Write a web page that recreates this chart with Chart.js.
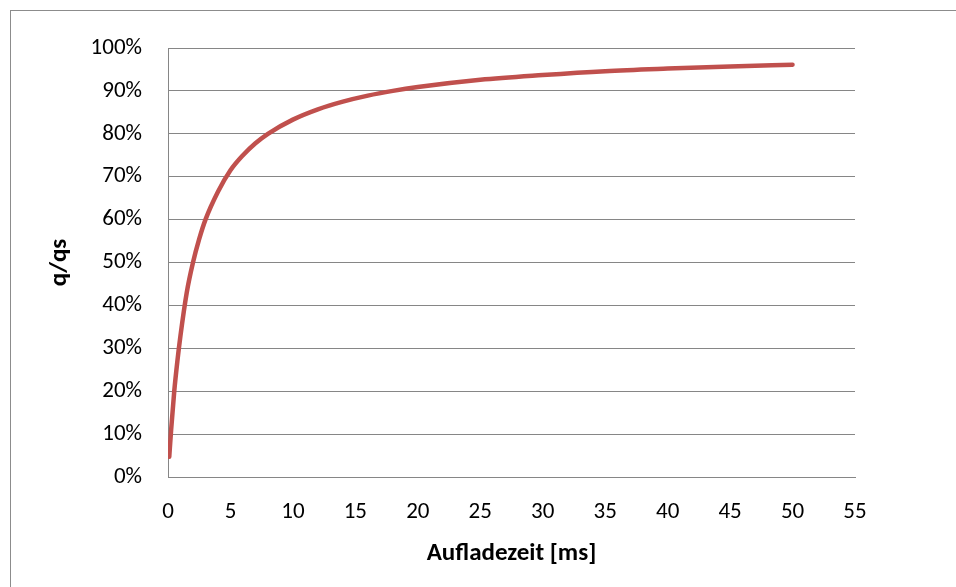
<!DOCTYPE html>
<html>
<head>
<meta charset="utf-8">
<script src="https://cdn.jsdelivr.net/npm/chart.js@4/dist/chart.umd.min.js"></script>
<style>
    html, body { margin: 0; padding: 0; background: #fff; overflow: hidden; }
    #wrap { position: relative; width: 956px; height: 587px; }
    #frame { position: absolute; left: 10px; top: 10px; width: 960px; height: 600px; border: 1px solid #8c8c8c; pointer-events: none; }
</style>
</head>
<body>
<div id="wrap">
    <canvas id="chart" width="956" height="587"></canvas>
    <div id="frame"></div>
</div>
<script>
// values: charging time [ms] and q/qs [%]
const chargeTime = [0.1, 0.25, 0.5, 0.75, 1, 1.5, 2, 2.5, 3, 4, 5, 6, 7, 8, 10, 12, 14, 16, 18, 20, 25, 30, 35, 40, 45, 50];
const chargeRatio = [4.7, 11, 20, 27, 33, 43, 50, 55.5, 60, 66.5, 71.5, 75, 77.8, 80, 83.3, 85.7, 87.5, 88.9, 90, 90.9, 92.6, 93.7, 94.6, 95.2, 95.7, 96.1];

const xTicks = [0, 5, 10, 15, 20, 25, 30, 35, 40, 45, 50, 55];
const yTicks = [0, 10, 20, 30, 40, 50, 60, 70, 80, 90, 100];

const fontFamily = 'Carlito, Calibri, Lato, "Open Sans", sans-serif';
const gridColor = '#868686';

document.addEventListener('DOMContentLoaded', () => {
    const points = chargeTime.map((t, i) => ({ x: t, y: chargeRatio[i] }));

    new Chart(document.getElementById('chart'), {
        type: 'scatter',
        data: {
            datasets: [{
                label: 'q/qs',
                data: points,
                showLine: true,
                borderColor: '#C0504D',
                borderWidth: 4.5,
                borderCapStyle: 'round',
                cubicInterpolationMode: 'monotone',
                pointRadius: 0,
                fill: false
            }]
        },
        options: {
            responsive: false,
            animation: false,
            layout: { padding: { left: 0, top: 48, right: 101, bottom: 0 } },
            plugins: {
                legend: { display: false },
                tooltip: { enabled: false }
            },
            scales: {
                x: {
                    type: 'linear',
                    min: xTicks[0],
                    max: xTicks[xTicks.length - 1],
                    afterBuildTicks: scale => { scale.ticks = xTicks.map(v => ({ value: v })); },
                    afterFit: scale => { scale.height = 110; },
                    grid: { display: false, drawTicks: false },
                    border: { display: true, color: gridColor, width: 1 },
                    ticks: {
                        color: '#000',
                        padding: 21,
                        maxRotation: 0,
                        font: { family: fontFamily, size: 23 }
                    },
                    title: {
                        display: true,
                        text: 'Aufladezeit [ms]',
                        color: '#000',
                        font: { family: fontFamily, size: 25, weight: 'bold' },
                        padding: { top: 0, bottom: 18 }
                    }
                },
                y: {
                    type: 'linear',
                    min: yTicks[0],
                    max: yTicks[yTicks.length - 1],
                    afterBuildTicks: scale => { scale.ticks = yTicks.map(v => ({ value: v })); },
                    afterFit: scale => { scale.width = 168; },
                    grid: { color: gridColor, lineWidth: 1, drawTicks: false },
                    border: { display: true, color: gridColor, width: 1 },
                    ticks: {
                        color: '#000',
                        padding: 26,
                        font: { family: fontFamily, size: 23 },
                        callback: v => v + '%'
                    },
                    title: {
                        display: true,
                        text: 'q/qs',
                        color: '#000',
                        font: { family: fontFamily, size: 25, weight: 'bold' },
                        padding: { top: 45, bottom: 0 }
                    }
                }
            }
        }
    });
});
</script>
</body>
</html>
